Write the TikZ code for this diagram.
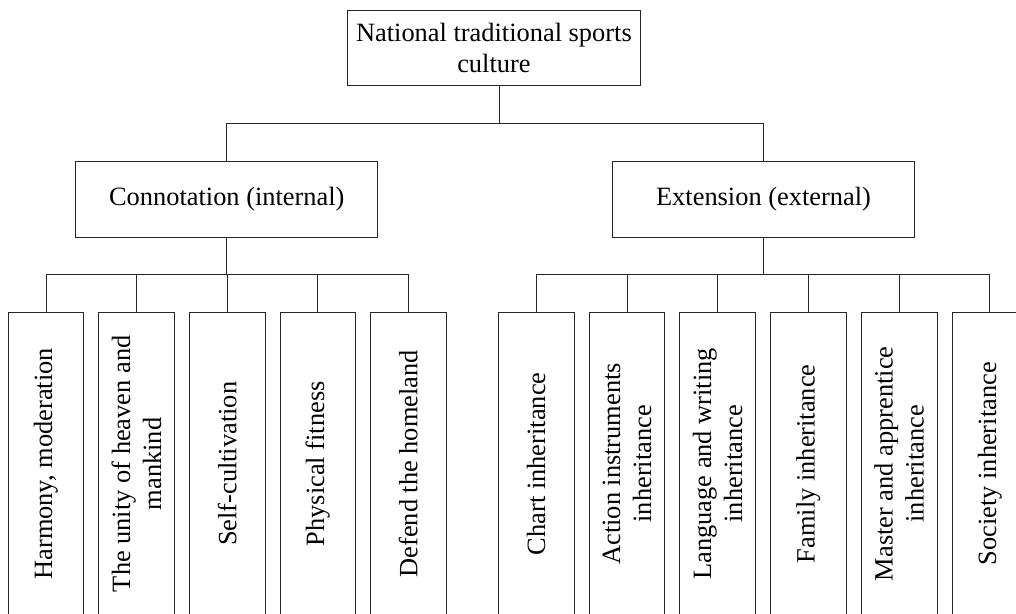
\documentclass[tikz,border=0pt]{standalone}
\usepackage{fontspec}
\setmainfont{Liberation Serif}
\usetikzlibrary{calc}
\begin{document}
\begin{tikzpicture}[x=1pt,y=-1pt,
  every node/.style={font=\fontsize{26.4}{31}\selectfont},
  box/.style={draw=black!85, line width=0.7pt, rectangle, inner sep=0pt, align=center},
  leaf/.style={box, rotate=90, minimum width=303pt, minimum height=75.7pt},
  link/.style={draw=black!85, line width=0.7pt}]
\useasboundingbox (0,0) rectangle (1016,613);
\clip (0,0) rectangle (1016,613);
\node[box, minimum width=292.3pt, minimum height=75.7pt] (top) at (493.9,47.8) {National traditional sports\\culture};
\node[box, minimum width=302pt, minimum height=76.3pt] (conn) at (226.8,199.2) {Connotation (internal)};
\node[box, minimum width=302pt, minimum height=76.3pt] (ext) at (763.5,199.2) {Extension (external)};
\coordinate (tbus) at (499,123.3);
\coordinate (lbus) at (226.8,274.7);
\coordinate (rbus) at (763.5,274.7);
% left leaves
\node[leaf] (l1) at (45.9,463.8) {Harmony, moderation};
\node[leaf] (l2) at (136.5,463.8) {The unity of heaven and\\mankind};
\node[leaf] (l3) at (227.1,463.8) {Self-cultivation};
\node[leaf] (l4) at (317.7,463.8) {Physical fitness};
\node[leaf] (l5) at (408.2,463.8) {Defend the homeland};
% right leaves
\node[leaf] (r1) at (536.2,463.8) {Chart inheritance};
\node[leaf] (r2) at (626.9,463.8) {Action instruments\\inheritance};
\node[leaf] (r3) at (717.6,463.8) {Language and writing\\inheritance};
\node[leaf] (r4) at (808.3,463.8) {Family inheritance};
\node[leaf] (r5) at (899.0,463.8) {Master and apprentice\\inheritance};
\node[leaf] (r6) at (989.7,463.8) {Society inheritance};
% connectors
\draw[link] (top.south -| tbus) -- (tbus);
\draw[link] (conn.north) |- (tbus);
\draw[link] (ext.north) |- (tbus);
\draw[link] (conn.south) -- (lbus);
\draw[link] (ext.south) -- (rbus);
\foreach \n in {l1,l2,l3,l4,l5} \draw[link] (\n.east) |- (lbus);
\foreach \n in {r1,r2,r3,r4,r5,r6} \draw[link] (\n.east) |- (rbus);
\end{tikzpicture}
\end{document}
